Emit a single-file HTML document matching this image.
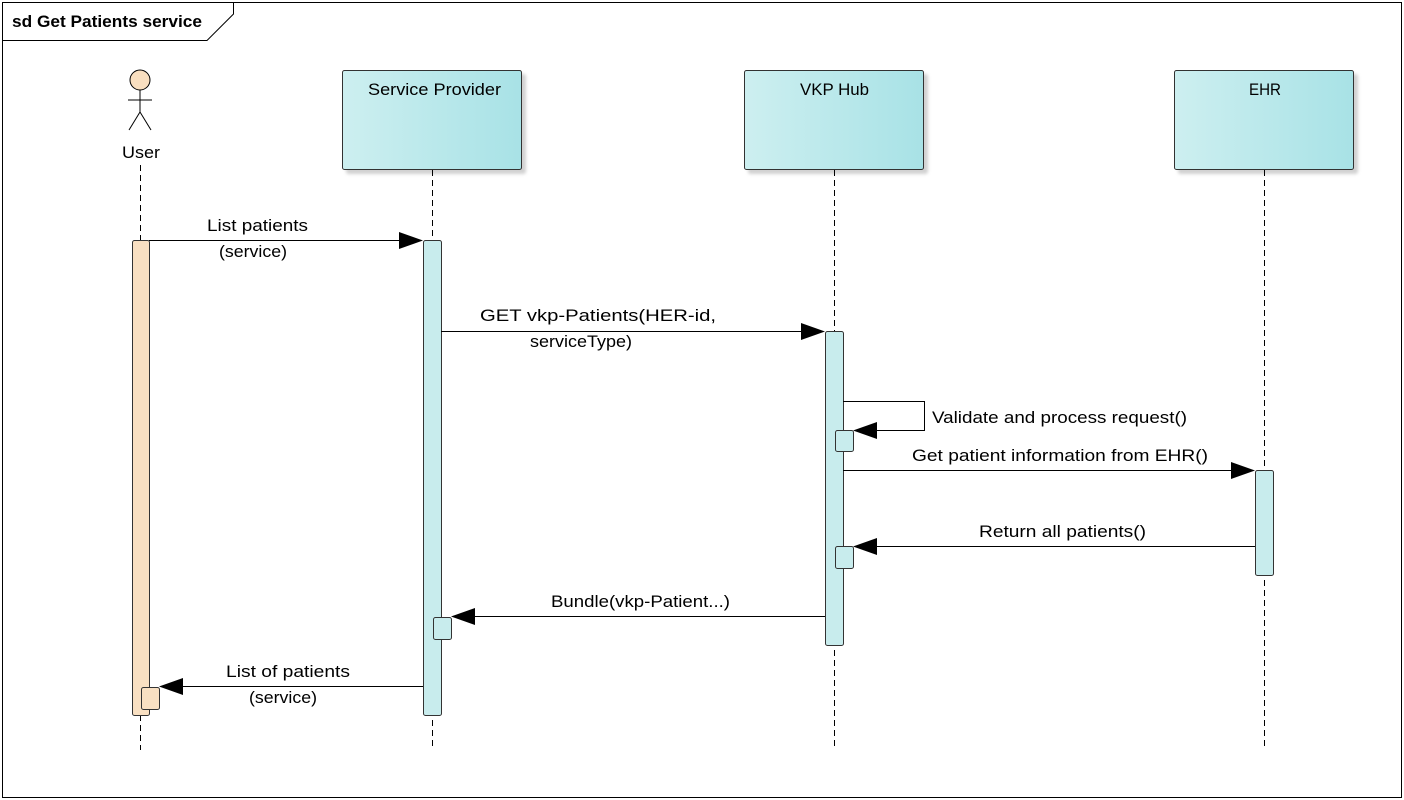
<!DOCTYPE html>
<html><head><meta charset="utf-8"><style>
html,body{margin:0;padding:0;background:#fff;}
svg{display:block;font-family:"Liberation Sans",sans-serif;}
</style></head><body>
<svg width="1404" height="800" viewBox="0 0 1404 800" xmlns="http://www.w3.org/2000/svg">
<defs>
<linearGradient id="g" x1="0" x2="1" y1="0" y2="0"><stop offset="0" stop-color="#cdeff0"/><stop offset="1" stop-color="#a8e2e6"/></linearGradient>
<filter id="sh" x="-10%" y="-10%" width="130%" height="130%"><feDropShadow dx="4" dy="4" stdDeviation="1.5" flood-color="#000" flood-opacity="0.18"/></filter>
</defs>
<rect x="2.5" y="2.5" width="1399" height="795" fill="#fff" stroke="#000"/>
<polygon points="2.5,2.5 233.5,2.5 233.5,14 207,40.5 2.5,40.5" fill="#fff" stroke="#000"/>
<text x="12" y="27" font-size="17" font-weight="bold" textLength="190" lengthAdjust="spacingAndGlyphs">sd Get Patients service</text>

<g stroke="#000" stroke-dasharray="6,4" stroke-width="1">
<line x1="140.5" y1="165" x2="140.5" y2="750"/>
<line x1="432.5" y1="170" x2="432.5" y2="750"/>
<line x1="834.5" y1="170" x2="834.5" y2="750"/>
<line x1="1264.5" y1="170" x2="1264.5" y2="750"/>
</g>

<g stroke="#000" fill="none">
<circle cx="140" cy="80" r="10" fill="#f9dfc0"/>
<line x1="140" y1="90" x2="140" y2="112"/>
<line x1="128" y1="100" x2="152" y2="100"/>
<line x1="140" y1="112" x2="129" y2="130"/>
<line x1="140" y1="112" x2="151" y2="130"/>
</g>

<g stroke="#333" fill="url(#g)" filter="url(#sh)">
<rect x="342.5" y="70.5" width="179" height="99" rx="2"/>
<rect x="744.5" y="70.5" width="179" height="99" rx="2"/>
<rect x="1174.5" y="70.5" width="179" height="99" rx="2"/>
</g>

<g stroke="#333">
<rect x="132.5" y="240.5" width="17" height="475" rx="2" fill="#f9e0c2"/>
<rect x="423.5" y="240.5" width="18" height="475" rx="2" fill="#c8eced"/>
<rect x="825.5" y="331.5" width="18" height="314" rx="2" fill="#c8eced"/>
<rect x="1255.5" y="470.5" width="18" height="105" rx="2" fill="#c8eced"/>
<rect x="835.5" y="430.5" width="18" height="21" rx="2" fill="#c8eced"/>
<rect x="835.5" y="546.5" width="18" height="22" rx="2" fill="#c8eced"/>
<rect x="433.5" y="617.5" width="18" height="22" rx="2" fill="#c8eced"/>
<rect x="141.5" y="687.5" width="18" height="22" rx="2" fill="#f9e0c2"/>
</g>

<g stroke="#000" fill="none">
<line x1="149" y1="240.5" x2="400" y2="240.5"/>
<line x1="441" y1="331.5" x2="802" y2="331.5"/>
<polyline points="843,401.5 924.5,401.5 924.5,430.5 876,430.5"/>
<line x1="843" y1="470.5" x2="1232" y2="470.5"/>
<line x1="1255" y1="546.5" x2="876" y2="546.5"/>
<line x1="825" y1="616.5" x2="474" y2="616.5"/>
<line x1="423" y1="686.5" x2="182" y2="686.5"/>
</g>
<g fill="#000">
<polygon points="423,240.5 399,232 399,249"/>
<polygon points="825,331.5 801,323 801,340"/>
<polygon points="853,430.5 877,422 877,439"/>
<polygon points="1255,470.5 1231,462 1231,479"/>
<polygon points="853,546.5 877,538 877,555"/>
<polygon points="451,616.5 475,608 475,625"/>
<polygon points="159,686.5 183,678 183,695"/>
</g>

<g font-size="17" lengthAdjust="spacingAndGlyphs">
<text x="122" y="158" textLength="38" lengthAdjust="spacingAndGlyphs">User</text>
<text x="368" y="95" textLength="133" lengthAdjust="spacingAndGlyphs">Service Provider</text>
<text x="800" y="95" textLength="69" lengthAdjust="spacingAndGlyphs">VKP Hub</text>
<text x="1249" y="95" textLength="32" lengthAdjust="spacingAndGlyphs">EHR</text>

<rect x="212" y="242" width="82" height="22" fill="#fff"/>
<text x="207" y="231" textLength="101" lengthAdjust="spacingAndGlyphs">List patients</text>
<text x="219" y="257" textLength="68" lengthAdjust="spacingAndGlyphs">(service)</text>
<rect x="525" y="333" width="112" height="22" fill="#fff"/>
<text x="480" y="321" textLength="236" lengthAdjust="spacingAndGlyphs">GET vkp-Patients(HER-id,</text>
<text x="530" y="347" textLength="102" lengthAdjust="spacingAndGlyphs">serviceType)</text>
<text x="932" y="423" textLength="255" lengthAdjust="spacingAndGlyphs">Validate and process request()</text>
<text x="912" y="461" textLength="296" lengthAdjust="spacingAndGlyphs">Get patient information from EHR()</text>
<text x="979" y="537" textLength="167" lengthAdjust="spacingAndGlyphs">Return all patients()</text>
<text x="551" y="607" textLength="179" lengthAdjust="spacingAndGlyphs">Bundle(vkp-Patient...)</text>
<rect x="244" y="688" width="78" height="22" fill="#fff"/>
<text x="226" y="677" textLength="124" lengthAdjust="spacingAndGlyphs">List of patients</text>
<text x="249" y="703" textLength="68" lengthAdjust="spacingAndGlyphs">(service)</text>
</g>
</svg>
</body></html>
